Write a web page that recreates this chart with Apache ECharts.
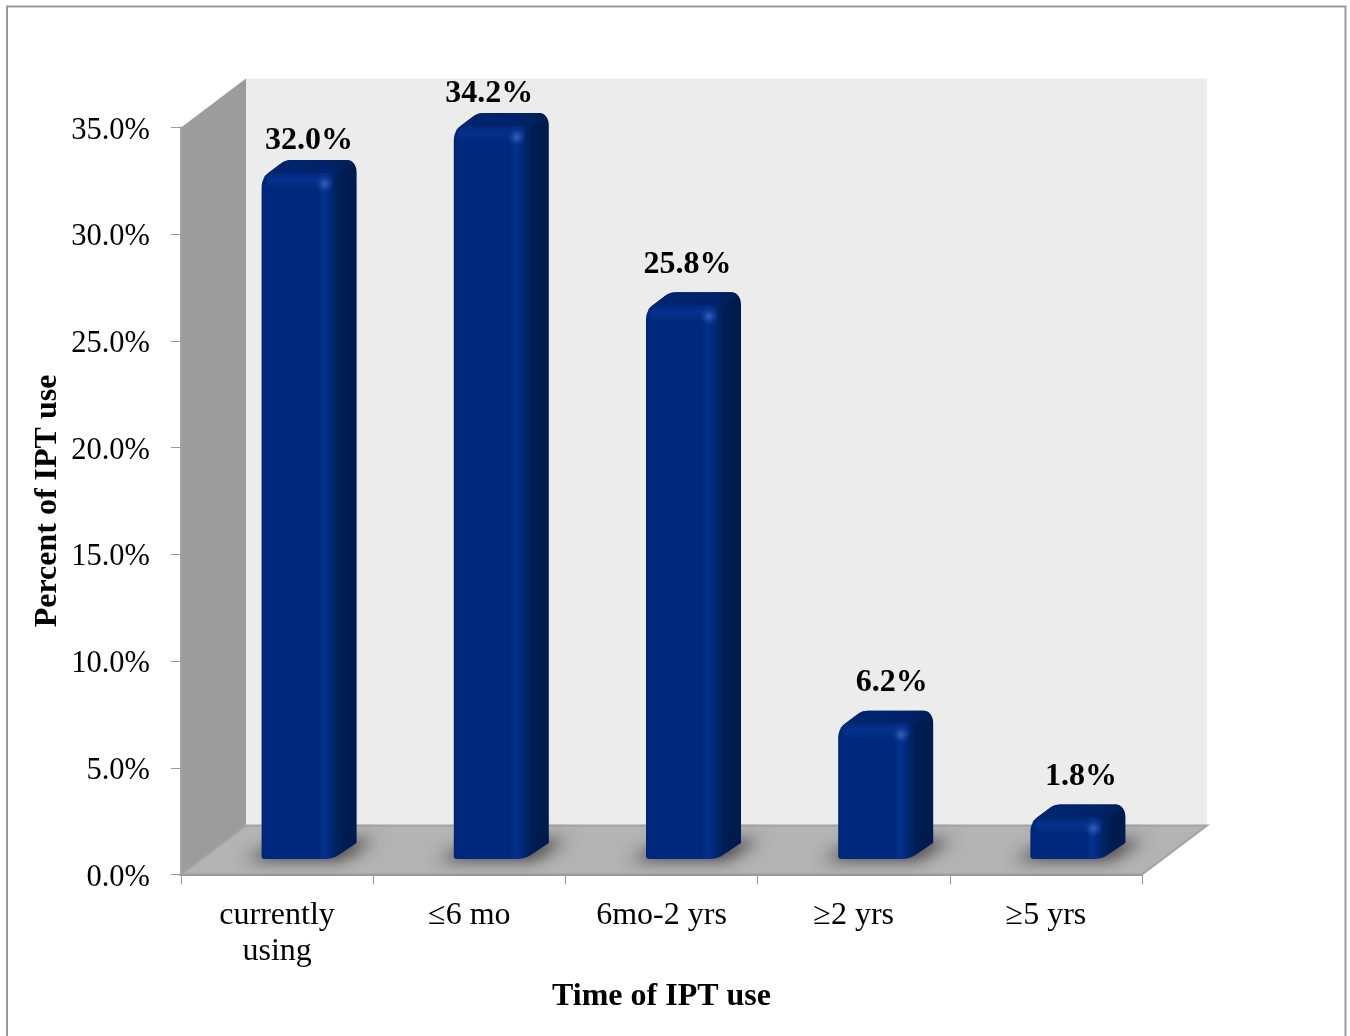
<!DOCTYPE html>
<html>
<head>
<meta charset="utf-8">
<style>
html,body{margin:0;padding:0;background:#fff;}
#chart{width:1350px;height:1036px;}
</style>
<script src="https://cdn.jsdelivr.net/npm/echarts@6/dist/echarts.min.js"></script>
</head>
<body>
<div id="chart"></div>
<script>
// IPT use by time since use
const categories = ['currently\nusing', '≤6 mo', '6mo-2 yrs', '≥2 yrs', '≥5 yrs'];
const percentValues = [32.0, 34.2, 25.8, 6.2, 1.8];
const labelTexts = ['32.0%', '34.2%', '25.8%', '6.2%', '1.8%'];
// Hand-placed label nudges: horizontal shift from the bar centre, gap above the bar
const labelShiftX = [0, -12, -6, 6, 3];
const labelGapY = [19, 19, 28, 28, 28];

const SERIF = '"Liberation Serif","Times New Roman",serif';
const DEPTH = { x: 65, y: 49 };
const BAR = { inset: 20.5, lift: 15.5, width: 72, dx: 23, dy: 16 };
const OFFSCREEN = 3000;

function poly(points, style) {
  return { type: 'polygon', shape: { points: points }, style: style };
}

// Side wall, back wall and floor of the 3D box, sized from the axes
function renderBox(params, api) {
  const band = api.size([1, 0])[0];
  const x0 = api.coord([0, 0])[0] - band / 2;
  const x1 = api.coord([categories.length - 1, 0])[0] + band / 2;
  const y0 = api.coord([0, 0])[1];
  const yT = api.coord([0, 35])[1];
  const dx = DEPTH.x, dy = DEPTH.y;
  const edge = '#a3a3a3';
  return {
    type: 'group',
    children: [
      { type: 'rect', shape: { x: x0 + dx, y: yT - dy, width: x1 - x0, height: y0 - yT }, style: { fill: '#ececec' } },
      poly([[x0, yT], [x0 + dx, yT - dy], [x0 + dx, y0 - dy], [x0, y0]], { fill: '#9c9c9c' }),
      poly([[x0, y0], [x0 + dx, y0 - dy], [x1 + dx, y0 - dy], [x1, y0]],
        { fill: '#b3b3b3', stroke: edge, lineWidth: 2 })
    ]
  };
}

// A bevelled bar with its soft floor shadow, drawn from the value scale
function renderBar(params, api) {
  const i = api.value(0);
  const v = api.value(1);
  const cx = api.coord([i, 0])[0];
  const y0 = api.coord([i, 0])[1];
  const yV = api.coord([i, v])[1];
  const L = cx - BAR.width / 2 + BAR.inset;
  const R = L + BAR.width;
  const B = y0 - BAR.lift;
  const T = yV - BAR.lift;
  const dx = BAR.dx, dy = BAR.dy;
  const XB = R + dx, YB = T - dy;

  const outline = [
    'M', L + 3, B,
    'Q', L, B, L, B - 3,
    'L', L, T + 12,
    'C', L, T + 4, L + 3, T, L + 8, T - 4,
    'L', L + dx - 3, YB + 3,
    'Q', L + dx + 1, YB, L + dx + 7, YB,
    'L', XB - 10, YB,
    'C', XB - 4, YB, XB, YB + 5, XB, YB + 12,
    'L', XB, B - dy,
    'L', R + 5, B - 4,
    'Q', R, B, R - 10, B,
    'Z'
  ].join(' ');

  const topFace = [
    'M', L + 2, T + 2,
    'C', L + 3, T, L + 4, T - 1, L + 8, T - 4,
    'L', L + dx - 3, YB + 3,
    'Q', L + dx + 1, YB, L + dx + 7, YB,
    'L', XB - 10, YB,
    'C', XB - 6, YB, XB - 3, YB + 2, XB - 2, YB + 6,
    'L', R + 4, T - 2,
    'L', R - 2, T - 3,
    'L', L + 10, T - 3,
    'Z'
  ].join(' ');

  const hGrad = {
    type: 'linear', x: 0, y: 0, x2: 1, y2: 0,
    colorStops: [
      { offset: 0, color: '#00236e' }, { offset: 0.03, color: '#00287c' },
      { offset: 0.59, color: '#00287c' }, { offset: 0.65, color: '#05318b' },
      { offset: 0.715, color: '#002a7c' }, { offset: 0.78, color: '#00225f' },
      { offset: 0.84, color: '#001c50' }, { offset: 1, color: '#001a4d' }
    ]
  };

  const parts = [
    // floor shadow: only the blur of an off-canvas shape lands on the floor
    {
      type: 'polygon', z2: 1,
      shape: {
        points: [[L - 16 - OFFSCREEN, B + 1], [R + 8 - OFFSCREEN, B + 1],
                 [XB + 18 - OFFSCREEN, B - dy - 3], [L + dx - OFFSCREEN, B - dy - 3]]
      },
      style: {
        fill: '#000', shadowBlur: 16, shadowOffsetX: OFFSCREEN,
        shadowColor: 'rgba(45,45,45,0.85)'
      }
    },
    { type: 'path', z2: 2, shape: { pathData: outline }, style: { fill: hGrad } },
    // lit bevel along the front top edge
    {
      type: 'rect', z2: 3,
      shape: { x: L + 5, y: T - 2, width: BAR.width - 6, height: 16, r: 5 },
      style: {
        fill: {
          type: 'linear', x: 0, y: 0, x2: 0, y2: 1,
          colorStops: [
            { offset: 0, color: 'rgba(6,50,140,0.2)' }, { offset: 0.35, color: 'rgba(6,50,140,0.9)' },
            { offset: 0.6, color: 'rgba(6,50,140,0.6)' }, { offset: 1, color: 'rgba(6,50,140,0)' }
          ]
        }
      }
    },
    {
      type: 'path', z2: 4, shape: { pathData: topFace },
      style: {
        fill: {
          type: 'linear', x: 0, y: 0, x2: 1, y2: 0,
          colorStops: [
            { offset: 0, color: '#00266f' }, { offset: 0.7, color: '#00236b' },
            { offset: 0.88, color: '#001f5e' }, { offset: 1, color: '#001c54' }
          ]
        }
      }
    },
    // corner glint
    {
      type: 'circle', z2: 6,
      shape: { cx: R - 9, cy: T + 8, r: 9 },
      style: {
        fill: {
          type: 'radial', x: 0.5, y: 0.5, r: 0.5,
          colorStops: [
            { offset: 0, color: 'rgba(60,100,190,0.95)' },
            { offset: 0.5, color: 'rgba(40,80,170,0.55)' },
            { offset: 1, color: 'rgba(20,60,150,0)' }
          ]
        }
      }
    },
    {
      type: 'text', z2: 10,
      style: {
        text: labelTexts[i],
        x: (L + XB) / 2 + labelShiftX[i],
        y: YB - labelGapY[i],
        align: 'center', verticalAlign: 'middle',
        font: 'bold 32px ' + SERIF, fill: '#000'
      }
    }
  ];
  return { type: 'group', children: parts };
}

const chart = echarts.init(document.getElementById('chart'), null, { renderer: 'canvas' });
chart.setOption({
  animation: false,
  backgroundColor: '#fff',
  graphic: [{
    type: 'rect', silent: true, z: -10,
    shape: { x: 7, y: 6.5, width: 1338.5, height: 1060 },
    style: { fill: 'none', stroke: '#9a9a9a', lineWidth: 2 }
  }],
  grid: { left: 181, right: 208, top: 127.5, bottom: 161.5, containLabel: false },
  xAxis: {
    type: 'category',
    data: categories,
    z: 3,
    name: 'Time of IPT use',
    nameLocation: 'middle',
    nameMoveOverlap: false,
    nameGap: 106,
    nameTextStyle: { fontFamily: SERIF, fontWeight: 'bold', fontSize: 32, color: '#000' },
    axisLine: { lineStyle: { color: '#9a9a9a', width: 2 } },
    axisTick: { show: true, alignWithLabel: false, length: 10, lineStyle: { color: '#9a9a9a', width: 1 } },
    axisLabel: { fontFamily: SERIF, fontSize: 32, color: '#000', margin: 23, lineHeight: 36, interval: 0 },
    splitLine: { show: false }
  },
  yAxis: {
    type: 'value',
    min: 0, max: 35, interval: 5,
    z: 3,
    name: 'Percent of IPT use',
    nameLocation: 'middle',
    nameMoveOverlap: false,
    nameGap: 117,
    nameRotate: 90,
    nameTextStyle: { fontFamily: SERIF, fontWeight: 'bold', fontSize: 32, color: '#000' },
    axisLine: { show: true, lineStyle: { color: '#a3a3a3', width: 2 } },
    axisTick: { show: true, length: 10, lineStyle: { color: '#9a9a9a', width: 1 } },
    axisLabel: { fontFamily: SERIF, fontSize: 30.5, color: '#000', margin: 31, verticalAlign: 'top', lineHeight: 6, formatter: function (v) { return v.toFixed(1) + '%'; } },
    splitLine: { show: false }
  },
  series: [
    { type: 'custom', z: 1, silent: true, renderItem: renderBox, data: [[0, 0]], encode: { x: 0, y: 1 } },
    { type: 'custom', z: 5, silent: true, renderItem: renderBar, clip: false,
      data: percentValues.map(function (v, i) { return [i, v]; }), encode: { x: 0, y: 1 } }
  ]
});
</script>
</body>
</html>
